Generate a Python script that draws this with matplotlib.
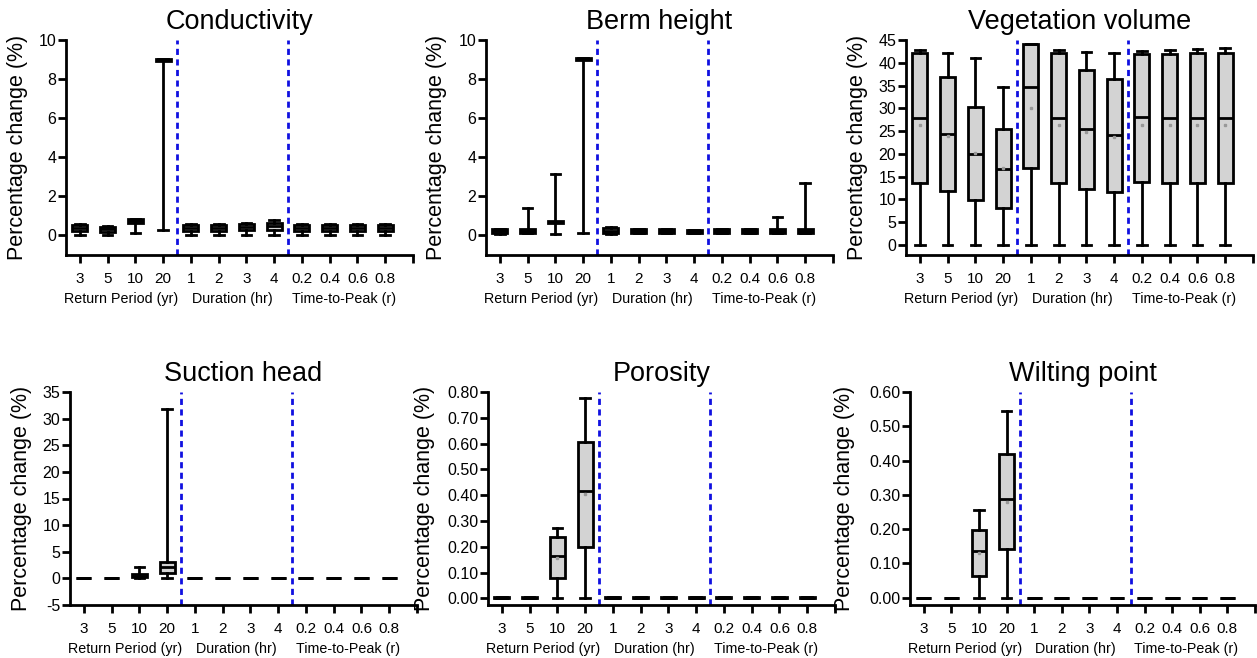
import numpy as np
import matplotlib
matplotlib.use("Agg")
import matplotlib.pyplot as plt

plt.rcParams['font.family'] = ['Liberation Sans', 'DejaVu Sans']

# x categories
tick_labels = ['3', '5', '10', '20', '1', '2', '3', '4', '0.2', '0.4', '0.6', '0.8']
group_names = ['Return Period (yr)', 'Duration (hr)', 'Time-to-Peak (r)']

# Conductivity
cond_lo = [0.0, 0.0, 0.1, 0.25, 0.0, 0.0, 0.0, 0.0, 0.0, 0.0, 0.0, 0.0]
cond_q1 = [0.2, 0.15, 0.6, 8.9, 0.2, 0.2, 0.25, 0.25, 0.2, 0.2, 0.2, 0.2]
cond_med = [0.35, 0.3, 0.7, 8.95, 0.35, 0.35, 0.4, 0.45, 0.35, 0.35, 0.35, 0.35]
cond_q3 = [0.5, 0.4, 0.8, 9.02, 0.5, 0.5, 0.55, 0.6, 0.5, 0.5, 0.5, 0.5]
cond_hi = [0.55, 0.45, 0.8, 9.02, 0.55, 0.55, 0.6, 0.75, 0.55, 0.55, 0.55, 0.55]
cond_mean = [0.35, 0.3, 0.7, 8.95, 0.35, 0.35, 0.4, 0.45, 0.35, 0.35, 0.35, 0.35]

# Berm height
berm_lo = [0.05, 0.1, 0.05, 0.12, 0.05, 0.1, 0.1, 0.1, 0.1, 0.1, 0.1, 0.1]
berm_q1 = [0.1, 0.1, 0.62, 8.95, 0.1, 0.1, 0.1, 0.1, 0.1, 0.1, 0.1, 0.1]
berm_med = [0.2, 0.2, 0.66, 9.0, 0.22, 0.2, 0.2, 0.18, 0.2, 0.2, 0.2, 0.2]
berm_q3 = [0.3, 0.3, 0.7, 9.08, 0.35, 0.3, 0.28, 0.25, 0.3, 0.3, 0.3, 0.3]
berm_hi = [0.3, 1.37, 3.1, 9.08, 0.4, 0.3, 0.28, 0.25, 0.3, 0.3, 0.9, 2.68]
berm_mean = [0.2, 0.2, 0.66, 9.0, 0.22, 0.2, 0.2, 0.18, 0.2, 0.2, 0.2, 0.2]

# Vegetation volume
veg_lo = [0, 0, 0, 0, 0, 0, 0, 0, 0, 0, 0, 0]
veg_q1 = [13.6, 11.9, 9.8, 8.1, 16.9, 13.6, 12.3, 11.7, 13.8, 13.6, 13.5, 13.5]
veg_med = [27.9, 24.4, 20.0, 16.7, 34.6, 27.9, 25.4, 24.1, 28.1, 27.9, 27.8, 27.8]
veg_q3 = [42.2, 36.9, 30.4, 25.5, 44.1, 42.2, 38.5, 36.5, 42.0, 42.0, 42.1, 42.2]
veg_hi = [42.7, 42.2, 41.1, 34.7, 44.1, 42.7, 42.3, 42.1, 42.6, 42.8, 43.0, 43.2]
veg_mean = [26.3, 24.0, 20.3, 17.0, 30.0, 26.3, 24.8, 23.8, 26.3, 26.3, 26.3, 26.3]

# Suction head
suc_lo = [0, 0, 0, 0, 0, 0, 0, 0, 0, 0, 0, 0]
suc_q1 = [0, 0, 0.3, 1.1, 0, 0, 0, 0, 0, 0, 0, 0]
suc_med = [0, 0, 0.5, 2.2, 0, 0, 0, 0, 0, 0, 0, 0]
suc_q3 = [0, 0, 0.8, 3.1, 0, 0, 0.1, 0, 0, 0, 0, 0]
suc_hi = [0, 0, 2.2, 31.9, 0, 0, 0.1, 0, 0, 0, 0, 0]
suc_mean = [0, 0, 0.5, 2.2, 0, 0, 0, 0, 0, 0, 0, 0]

# Porosity
por_lo = [0.0, 0.0, 0.0, 0.0, 0.0, 0.0, 0.0, 0.0, 0.0, 0.0, 0.0, 0.0]
por_q1 = [0.003, 0.003, 0.08, 0.2, 0.003, 0.003, 0.003, 0.003, 0.003, 0.003, 0.003, 0.003]
por_med = [0.003, 0.003, 0.165, 0.415, 0.003, 0.003, 0.003, 0.003, 0.003, 0.003, 0.003, 0.003]
por_q3 = [0.004, 0.004, 0.239, 0.605, 0.004, 0.004, 0.004, 0.004, 0.004, 0.004, 0.004, 0.004]
por_hi = [0.004, 0.004, 0.274, 0.778, 0.004, 0.004, 0.004, 0.004, 0.004, 0.004, 0.004, 0.004]
por_mean = [0.003, 0.003, 0.155, 0.405, 0.003, 0.003, 0.003, 0.003, 0.003, 0.003, 0.003, 0.003]

# Wilting point
wilt_lo = [0, 0, 0, 0, 0, 0, 0, 0, 0, 0, 0, 0]
wilt_q1 = [0, 0, 0.065, 0.143, 0, 0, 0, 0, 0, 0, 0, 0]
wilt_med = [0, 0, 0.136, 0.287, 0, 0, 0, 0, 0, 0, 0, 0]
wilt_q3 = [0, 0, 0.197, 0.418, 0, 0, 0, 0, 0, 0, 0, 0]
wilt_hi = [0, 0, 0.257, 0.546, 0, 0, 0, 0, 0, 0, 0, 0]
wilt_mean = [0, 0, 0.13, 0.28, 0, 0, 0, 0, 0, 0, 0, 0]

W, H = 1257, 658
fig = plt.figure(figsize=(W / 100, H / 100), dpi=100)

# (title, data, ylim, yticks, fmt, axes box in px: left, top, right, bottom, ylabel x, show means)
panels = [
    ('Conductivity', (cond_lo, cond_q1, cond_med, cond_q3, cond_hi, cond_mean),
     (-1.03, 10), np.arange(0, 11, 2), '{:.0f}', (66, 40, 413, 255), -0.11, False),
    ('Berm height', (berm_lo, berm_q1, berm_med, berm_q3, berm_hi, berm_mean),
     (-1.03, 10), np.arange(0, 11, 2), '{:.0f}', (486, 40, 833, 255), -0.112, False),
    ('Vegetation volume', (veg_lo, veg_q1, veg_med, veg_q3, veg_hi, veg_mean),
     (-2.2, 45), np.arange(0, 46, 5), '{:.0f}', (906, 40, 1253, 255), -0.11, True),
    ('Suction head', (suc_lo, suc_q1, suc_med, suc_q3, suc_hi, suc_mean),
     (-5, 35), np.arange(-5, 36, 5), '{:.0f}', (70, 392, 417, 605), -0.11, False),
    ('Porosity', (por_lo, por_q1, por_med, por_q3, por_hi, por_mean),
     (-0.026, 0.8), np.arange(0, 0.81, 0.1), '{:.2f}', (488, 392, 835, 605), -0.153, True),
    ('Wilting point', (wilt_lo, wilt_q1, wilt_med, wilt_q3, wilt_hi, wilt_mean),
     (-0.021, 0.6), np.arange(0, 0.61, 0.1), '{:.2f}', (910, 392, 1255, 605), -0.158, True),
]

lw = 2.0
for title, data, ylim, yticks, fmt, box, ylx, show_mean in panels:
    l, t, r, b = box
    ax = fig.add_axes([l / W, 1 - b / H, (r - l) / W, (b - t) / H])
    lo, q1, med, q3, hi, mean = data
    stats = []
    for i in range(len(tick_labels)):
        stats.append(dict(whislo=lo[i], q1=q1[i], med=med[i], q3=q3[i],
                          whishi=hi[i], fliers=[]))
    pos = np.arange(12)
    ax.bxp(stats, positions=pos, widths=0.54, patch_artist=True,
           showmeans=False, capwidths=0.35,
           boxprops=dict(facecolor='#d3d3d3', edgecolor='black', linewidth=lw),
           medianprops=dict(color='black', linewidth=lw, solid_capstyle='butt'),
           whiskerprops=dict(color='black', linewidth=lw),
           capprops=dict(color='black', linewidth=lw))
    if show_mean:
        # mean markers only on boxes with visible height
        keep = (np.array(q3) - np.array(q1)) > 0.02 * (ylim[1] - ylim[0])
        ax.plot(pos[keep], np.array(mean)[keep], linestyle='none', marker='s',
                markersize=2, color='#999999', zorder=4)
    for xv in (3.5, 7.5):
        ax.axvline(xv, color='#1010e0', linestyle=(0, (2.2, 1.6)), linewidth=2.0)

    ax.set_xlim(-0.5, 12.0)
    ax.set_ylim(*ylim)
    ax.set_xticks(np.arange(13))
    ax.set_xticklabels(tick_labels + [''], fontsize=11)
    ax.set_yticks(yticks)
    ax.set_yticklabels([fmt.format(v) for v in yticks], fontsize=11.5)
    ax.spines['top'].set_visible(False)
    ax.spines['right'].set_visible(False)
    for s in ('left', 'bottom'):
        ax.spines[s].set_linewidth(2.0)
    ax.tick_params(axis='both', direction='out', length=6, width=2.0)
    ax.tick_params(axis='x', pad=6)
    ax.tick_params(axis='y', pad=1)

    ax.set_title(title, fontsize=19.5, pad=8)
    ax.set_ylabel('Percentage change (%)', fontsize=15.5)
    ax.yaxis.set_label_coords(ylx, 0.5)

    for g, name in enumerate(group_names):
        ax.annotate(name, xy=(g * 4 + 1.5, 0), xycoords=('data', 'axes fraction'),
                    xytext=(0, -32), textcoords='offset points',
                    ha='center', va='center', fontsize=10.3)

fig.savefig('out.png', dpi=100)
